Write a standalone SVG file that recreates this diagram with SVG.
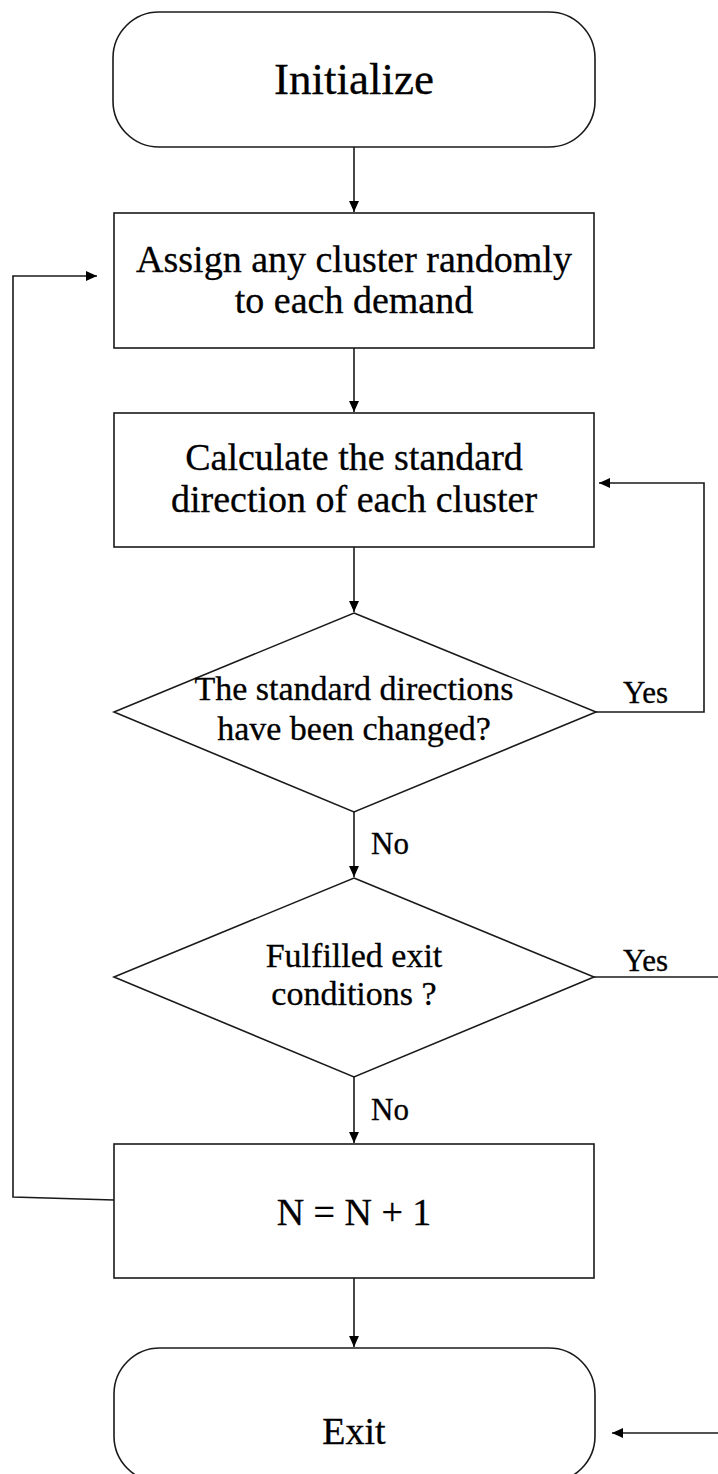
<svg xmlns="http://www.w3.org/2000/svg" width="718" height="1474" viewBox="0 0 718 1474">
  <style>
    .shape { fill: #ffffff; stroke: #1a1a1a; stroke-width: 1.6; }
    .edge { fill: none; stroke: #1a1a1a; stroke-width: 1.6; }
    .label { font-family: "Liberation Serif", "Times New Roman", serif; fill: #000000; text-anchor: middle; stroke: #000000; stroke-width: 0.3; }
    .big { font-size: 45px; }
    .body { font-size: 38px; }
    .cond { font-size: 34px; }
    .tag { font-size: 31px; text-anchor: start; }
  </style>
  <defs>
    <marker id="arrow" viewBox="0 0 10 10" refX="10" refY="5" markerWidth="11" markerHeight="11" markerUnits="userSpaceOnUse" orient="auto">
      <path d="M0,0.5 L10,5 L0,9.5 Z" fill="#000000"/>
    </marker>
  </defs>
  <rect width="718" height="1474" fill="#ffffff"/>

  <!-- connectors -->
  <g id="connectors">
    <line class="edge" x1="354" y1="147" x2="354" y2="212" marker-end="url(#arrow)"/>
    <line class="edge" x1="354" y1="348" x2="354" y2="412" marker-end="url(#arrow)"/>
    <line class="edge" x1="354" y1="547" x2="354" y2="612" marker-end="url(#arrow)"/>
    <line class="edge" x1="354" y1="812" x2="354" y2="877" marker-end="url(#arrow)"/>
    <line class="edge" x1="354" y1="1077" x2="354" y2="1143" marker-end="url(#arrow)"/>
    <line class="edge" x1="354" y1="1278" x2="354" y2="1347" marker-end="url(#arrow)"/>
    <!-- changed? yes: back to the direction step -->
    <polyline class="edge" points="596,712 704,712 704,483 599,483" marker-end="url(#arrow)"/>
    <!-- exit conditions met: into Exit -->
    <line class="edge" x1="594" y1="977" x2="718" y2="977"/>
    <line class="edge" x1="718" y1="1433" x2="612" y2="1433" marker-end="url(#arrow)"/>
    <!-- next iteration loop -->
    <polyline class="edge" points="114,1200 13,1197 13,276 97,276" marker-end="url(#arrow)"/>
    <text class="label tag" x="623" y="703">Yes</text>
    <text class="label tag" x="623" y="971">Yes</text>
    <text class="label tag" x="371" y="854">No</text>
    <text class="label tag" x="371" y="1120">No</text>
  </g>

  <g id="initialize">
    <rect class="shape" x="113" y="12" width="482" height="135" rx="46" ry="46"/>
    <text class="label big" x="354" y="94">Initialize</text>
  </g>

  <g id="assign">
    <rect class="shape" x="114" y="213" width="480" height="135"/>
    <text class="label body" x="354" y="272">Assign any cluster randomly</text>
    <text class="label body" x="354" y="313">to each demand</text>
  </g>

  <g id="calculate">
    <rect class="shape" x="114" y="413" width="480" height="134"/>
    <text class="label body" x="354" y="470">Calculate the standard</text>
    <text class="label body" x="354" y="512">direction of each cluster</text>
  </g>

  <g id="changed">
    <polygon class="shape" points="354,613 596,712 354,812 114,712"/>
    <text class="label cond" x="354" y="700">The standard directions</text>
    <text class="label cond" x="354" y="740">have been changed?</text>
  </g>

  <g id="exit-check">
    <polygon class="shape" points="354,878 594,977 354,1077 114,977"/>
    <text class="label cond" x="354" y="967">Fulfilled exit</text>
    <text class="label cond" x="354" y="1005">conditions ?</text>
  </g>

  <g id="increment">
    <rect class="shape" x="114" y="1144" width="480" height="134"/>
    <text class="label body" x="354" y="1225">N = N + 1</text>
  </g>

  <g id="exit">
    <rect class="shape" x="114" y="1348" width="481" height="134" rx="46" ry="46"/>
    <text class="label body" x="354" y="1444">Exit</text>
  </g>
</svg>
